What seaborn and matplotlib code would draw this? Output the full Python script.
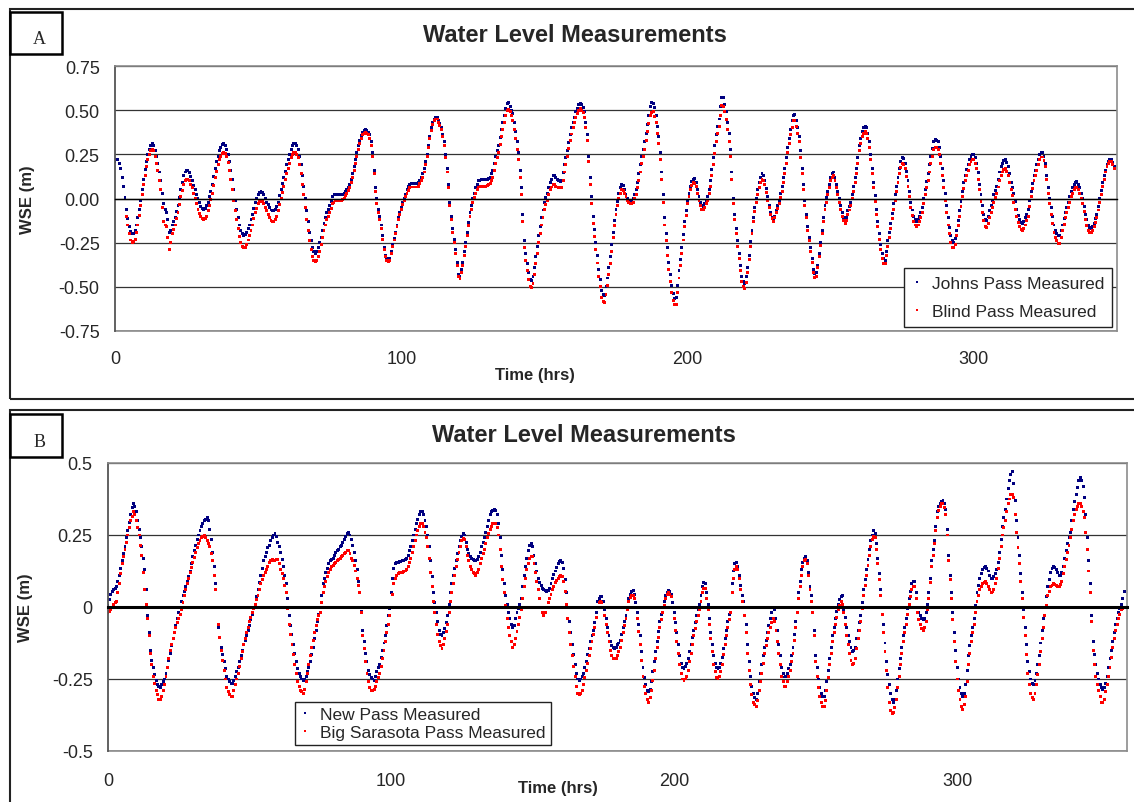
"""
Water level measurements at four passes (Excel-style dotted time series).
Panel A: Johns Pass / Blind Pass, Panel B: New Pass / Big Sarasota Pass.
"""

import numpy as np
import pandas as pd
import matplotlib
matplotlib.use('Agg')
import matplotlib.pyplot as plt
import seaborn as sns
from matplotlib.patches import Rectangle

# Data: readings every half hour, WSE in metres
TITLE = 'Water Level Measurements'
X_TICKS = [0, 100, 200, 300]
STEP_HRS = 0.5

JOHNS_START = 0
johns_pass = [
    0.21, 0.22, 0.22, 0.20, 0.17, 0.12, 0.07, 0.005, -0.06, -0.115, -0.16, -0.185, -0.20, -0.20, -0.18, -0.15, -0.11, -0.06, -0.01, 0.05,
    0.11, 0.165, 0.21, 0.25, 0.28, 0.30, 0.31, 0.30, 0.27, 0.24, 0.20, 0.15, 0.10, 0.03, -0.03, -0.06, -0.08, -0.12, -0.19, -0.18,
    -0.15, -0.13, -0.11, -0.075, -0.04, 0.005, 0.05, 0.09, 0.13, 0.15, 0.16, 0.16, 0.145, 0.125, 0.10, 0.075, 0.05, 0.025, 0.00, -0.025,
    -0.045, -0.055, -0.06, -0.055, -0.04, -0.02, 0.01, 0.04, 0.08, 0.125, 0.17, 0.21, 0.24, 0.27, 0.29, 0.305, 0.31, 0.30, 0.28, 0.25,
    0.21, 0.16, 0.11, 0.05, -0.01, -0.06, -0.11, -0.15, -0.18, -0.20, -0.21, -0.205, -0.19, -0.17, -0.15, -0.12, -0.09, -0.055, -0.02, 0.00,
    0.02, 0.035, 0.04, 0.035, 0.02, 0.00, -0.02, -0.035, -0.05, -0.065, -0.07, -0.07, -0.06, -0.045, -0.02, 0.015, 0.05, 0.085, 0.12, 0.155,
    0.19, 0.22, 0.25, 0.28, 0.30, 0.31, 0.31, 0.30, 0.28, 0.24, 0.19, 0.13, 0.07, 0.00, -0.07, -0.13, -0.19, -0.24, -0.28, -0.30,
    -0.31, -0.30, -0.28, -0.25, -0.22, -0.18, -0.14, -0.11, -0.08, -0.06, -0.04, -0.015, 0.01, 0.02, 0.025, 0.025, 0.025, 0.02, 0.02, 0.025,
    0.03, 0.04, 0.05, 0.065, 0.08, 0.11, 0.14, 0.18, 0.22, 0.26, 0.30, 0.33, 0.355, 0.375, 0.385, 0.39, 0.385, 0.375, 0.36, 0.32,
    0.26, 0.16, 0.06, 0.00, -0.06, -0.10, -0.15, -0.21, -0.28, -0.32, -0.34, -0.345, -0.34, -0.30, -0.26, -0.225, -0.19, -0.15, -0.11, -0.08,
    -0.05, -0.025, 0.00, 0.025, 0.05, 0.07, 0.08, 0.085, 0.085, 0.085, 0.085, 0.085, 0.09, 0.10, 0.12, 0.14, 0.17, 0.21, 0.25, 0.30,
    0.35, 0.40, 0.43, 0.45, 0.46, 0.46, 0.44, 0.425, 0.40, 0.365, 0.32, 0.25, 0.17, 0.08, -0.02, -0.10, -0.17, -0.23, -0.29, -0.36,
    -0.43, -0.44, -0.40, -0.36, -0.30, -0.25, -0.19, -0.135, -0.08, -0.04, 0.00, 0.03, 0.06, 0.08, 0.10, 0.10, 0.105, 0.105, 0.105, 0.11,
    0.11, 0.115, 0.12, 0.14, 0.16, 0.20, 0.24, 0.27, 0.30, 0.345, 0.39, 0.43, 0.47, 0.51, 0.54, 0.545, 0.52, 0.50, 0.48, 0.43,
    0.38, 0.32, 0.26, 0.16, 0.06, -0.09, -0.24, -0.31, -0.37, -0.42, -0.46, -0.465, -0.44, -0.39, -0.33, -0.27, -0.21, -0.16, -0.11, -0.065,
    -0.02, 0.005, 0.03, 0.06, 0.09, 0.11, 0.13, 0.13, 0.12, 0.11, 0.10, 0.095, 0.10, 0.145, 0.19, 0.23, 0.27, 0.315, 0.36, 0.40,
    0.43, 0.46, 0.49, 0.51, 0.53, 0.54, 0.53, 0.515, 0.49, 0.43, 0.36, 0.24, 0.12, 0.01, -0.10, -0.175, -0.25, -0.325, -0.40, -0.46,
    -0.52, -0.545, -0.55, -0.50, -0.45, -0.39, -0.33, -0.26, -0.19, -0.125, -0.06, -0.015, 0.03, 0.06, 0.08, 0.075, 0.05, 0.025, 0.00, -0.015,
    -0.02, -0.015, 0.00, 0.02, 0.05, 0.09, 0.14, 0.19, 0.24, 0.28, 0.32, 0.37, 0.42, 0.47, 0.52, 0.545, 0.54, 0.515, 0.47, 0.41,
    0.35, 0.26, 0.15, 0.02, -0.11, -0.20, -0.28, -0.36, -0.43, -0.49, -0.54, -0.565, -0.56, -0.49, -0.41, -0.345, -0.28, -0.205, -0.13, -0.07,
    -0.01, 0.03, 0.07, 0.095, 0.11, 0.115, 0.09, 0.05, 0.01, -0.02, -0.04, -0.045, -0.03, -0.015, 0.01, 0.05, 0.10, 0.165, 0.23, 0.30,
    0.36, 0.41, 0.45, 0.52, 0.57, 0.57, 0.53, 0.49, 0.43, 0.37, 0.28, 0.15, 0.00, -0.09, -0.17, -0.24, -0.31, -0.38, -0.44, -0.47,
    -0.48, -0.44, -0.39, -0.32, -0.245, -0.18, -0.11, -0.05, 0.00, 0.05, 0.09, 0.12, 0.14, 0.13, 0.10, 0.055, 0.01, -0.04, -0.08, -0.11,
    -0.12, -0.10, -0.07, -0.04, -0.01, 0.03, 0.07, 0.12, 0.17, 0.23, 0.29, 0.34, 0.39, 0.44, 0.47, 0.475, 0.44, 0.40, 0.35, 0.27,
    0.17, 0.08, -0.01, -0.09, -0.16, -0.22, -0.28, -0.34, -0.40, -0.425, -0.42, -0.38, -0.31, -0.25, -0.18, -0.11, -0.04, 0.005, 0.04, 0.08,
    0.12, 0.14, 0.15, 0.12, 0.08, 0.04, 0.00, -0.04, -0.08, -0.105, -0.12, -0.11, -0.07, -0.045, -0.02, 0.02, 0.07, 0.12, 0.17, 0.23,
    0.30, 0.34, 0.38, 0.40, 0.41, 0.40, 0.37, 0.32, 0.25, 0.17, 0.09, 0.015, -0.06, -0.13, -0.20, -0.26, -0.31, -0.34, -0.35, -0.30,
    -0.24, -0.19, -0.14, -0.085, -0.03, 0.02, 0.07, 0.12, 0.17, 0.21, 0.23, 0.225, 0.20, 0.155, 0.10, 0.04, -0.02, -0.065, -0.10, -0.12,
    -0.13, -0.12, -0.10, -0.08, -0.05, 0.00, 0.05, 0.095, 0.14, 0.19, 0.24, 0.285, 0.32, 0.335, 0.33, 0.32, 0.29, 0.24, 0.17, 0.10,
    0.03, -0.04, -0.11, -0.165, -0.21, -0.235, -0.25, -0.225, -0.18, -0.125, -0.07, -0.015, 0.04, 0.09, 0.13, 0.165, 0.19, 0.22, 0.24, 0.25,
    0.25, 0.23, 0.20, 0.145, 0.08, 0.02, -0.04, -0.09, -0.12, -0.125, -0.10, -0.07, -0.04, -0.01, 0.02, 0.045, 0.07, 0.11, 0.15, 0.18,
    0.20, 0.215, 0.22, 0.205, 0.18, 0.14, 0.09, 0.06, 0.03, -0.015, -0.06, -0.095, -0.12, -0.135, -0.14, -0.13, -0.11, -0.09, -0.06, -0.01,
    0.04, 0.085, 0.13, 0.16, 0.19, 0.22, 0.25, 0.26, 0.26, 0.24, 0.20, 0.13, 0.06, 0.00, -0.05, -0.10, -0.15, -0.18, -0.20, -0.21,
    -0.21, -0.18, -0.15, -0.115, -0.08, -0.05, -0.02, 0.01, 0.04, 0.06, 0.08, 0.09, 0.095, 0.08, 0.06, 0.03, 0.00, -0.045, -0.09, -0.12,
    -0.15, -0.165, -0.17, -0.16, -0.14, -0.115, -0.09, -0.045, 0.00, 0.045, 0.09, 0.13, 0.16, 0.19, 0.21, 0.22, 0.22, 0.205, 0.18,
]

BLIND_START = 4
blind_pass = [
    -0.10, -0.15, -0.20, -0.235, -0.25, -0.245, -0.23, -0.19, -0.15, -0.095, -0.04, 0.02,
    0.08, 0.13, 0.18, 0.22, 0.25, 0.27, 0.28, 0.27, 0.24, 0.20, 0.16, 0.10, 0.05, -0.05, -0.13, -0.15, -0.16, -0.22, -0.29, -0.25,
    -0.20, -0.175, -0.15, -0.115, -0.08, -0.035, 0.01, 0.045, 0.08, 0.10, 0.11, 0.11, 0.10, 0.08, 0.06, 0.03, 0.00, -0.03, -0.06, -0.085,
    -0.10, -0.115, -0.12, -0.115, -0.10, -0.07, -0.04, -0.005, 0.03, 0.075, 0.12, 0.155, 0.19, 0.22, 0.24, 0.255, 0.26, 0.255, 0.24, 0.205,
    0.16, 0.105, 0.05, -0.01, -0.07, -0.12, -0.17, -0.215, -0.25, -0.27, -0.28, -0.275, -0.26, -0.235, -0.21, -0.18, -0.15, -0.115, -0.08, -0.055,
    -0.03, -0.015, -0.01, -0.015, -0.03, -0.05, -0.07, -0.09, -0.11, -0.125, -0.13, -0.13, -0.12, -0.10, -0.07, -0.035, 0.00, 0.035, 0.07, 0.105,
    0.14, 0.17, 0.20, 0.23, 0.25, 0.26, 0.26, 0.25, 0.23, 0.19, 0.14, 0.08, 0.02, -0.05, -0.12, -0.18, -0.24, -0.29, -0.33, -0.35,
    -0.355, -0.35, -0.33, -0.30, -0.26, -0.22, -0.18, -0.15, -0.12, -0.10, -0.08, -0.055, -0.03, -0.02, -0.01, -0.01, -0.01, -0.01, -0.01, -0.005,
    0.00, 0.015, 0.03, 0.045, 0.06, 0.09, 0.12, 0.16, 0.20, 0.24, 0.28, 0.31, 0.34, 0.36, 0.37, 0.375, 0.37, 0.36, 0.34, 0.30,
    0.24, 0.14, 0.04, -0.03, -0.08, -0.12, -0.17, -0.23, -0.29, -0.33, -0.35, -0.355, -0.35, -0.31, -0.27, -0.235, -0.20, -0.16, -0.12, -0.09,
    -0.06, -0.035, -0.01, 0.01, 0.03, 0.045, 0.06, 0.065, 0.065, 0.065, 0.065, 0.065, 0.07, 0.085, 0.10, 0.12, 0.15, 0.195, 0.24, 0.29,
    0.34, 0.385, 0.42, 0.44, 0.45, 0.45, 0.43, 0.415, 0.39, 0.35, 0.30, 0.23, 0.15, 0.06, -0.04, -0.12, -0.19, -0.25, -0.31, -0.38,
    -0.44, -0.455, -0.42, -0.38, -0.32, -0.27, -0.21, -0.155, -0.10, -0.06, -0.02, 0.005, 0.03, 0.05, 0.065, 0.07, 0.07, 0.07, 0.07, 0.07,
    0.075, 0.08, 0.085, 0.10, 0.12, 0.16, 0.20, 0.23, 0.26, 0.305, 0.35, 0.39, 0.43, 0.47, 0.50, 0.505, 0.49, 0.47, 0.44, 0.39,
    0.34, 0.28, 0.22, 0.12, 0.02, -0.13, -0.28, -0.35, -0.41, -0.46, -0.50, -0.505, -0.48, -0.43, -0.37, -0.31, -0.25, -0.20, -0.15, -0.105,
    -0.06, -0.035, -0.01, 0.02, 0.05, 0.065, 0.08, 0.08, 0.07, 0.065, 0.06, 0.06, 0.06, 0.10, 0.15, 0.195, 0.24, 0.285, 0.33, 0.365,
    0.40, 0.43, 0.46, 0.48, 0.50, 0.51, 0.50, 0.485, 0.46, 0.40, 0.33, 0.21, 0.08, -0.03, -0.14, -0.215, -0.29, -0.365, -0.44, -0.50,
    -0.56, -0.585, -0.59, -0.545, -0.49, -0.43, -0.37, -0.30, -0.22, -0.155, -0.09, -0.04, 0.00, 0.03, 0.05, 0.045, 0.03, 0.01, -0.01, -0.02,
    -0.03, -0.03, -0.02, 0.00, 0.02, 0.06, 0.10, 0.15, 0.20, 0.24, 0.28, 0.33, 0.38, 0.425, 0.47, 0.485, 0.49, 0.465, 0.43, 0.37,
    0.31, 0.22, 0.11, -0.02, -0.15, -0.24, -0.32, -0.40, -0.47, -0.53, -0.58, -0.60, -0.60, -0.53, -0.45, -0.38, -0.31, -0.235, -0.16, -0.095,
    -0.03, 0.01, 0.05, 0.075, 0.09, 0.085, 0.07, 0.03, -0.01, -0.04, -0.06, -0.06, -0.05, -0.03, -0.01, 0.03, 0.07, 0.13, 0.19, 0.255,
    0.32, 0.37, 0.41, 0.47, 0.525, 0.52, 0.49, 0.445, 0.39, 0.32, 0.24, 0.11, -0.03, -0.12, -0.20, -0.27, -0.34, -0.41, -0.47, -0.50,
    -0.51, -0.475, -0.42, -0.345, -0.27, -0.20, -0.13, -0.075, -0.02, 0.02, 0.06, 0.09, 0.11, 0.10, 0.08, 0.035, -0.01, -0.05, -0.09, -0.115,
    -0.13, -0.11, -0.08, -0.055, -0.03, 0.005, 0.04, 0.09, 0.14, 0.20, 0.26, 0.31, 0.36, 0.40, 0.44, 0.44, 0.41, 0.37, 0.32, 0.23,
    0.14, 0.05, -0.04, -0.11, -0.18, -0.24, -0.30, -0.36, -0.42, -0.445, -0.44, -0.39, -0.33, -0.265, -0.20, -0.13, -0.06, -0.02, 0.02, 0.06,
    0.10, 0.12, 0.13, 0.10, 0.06, 0.02, -0.02, -0.06, -0.10, -0.125, -0.14, -0.125, -0.09, -0.065, -0.04, 0.00, 0.04, 0.09, 0.14, 0.20,
    0.27, 0.31, 0.35, 0.37, 0.38, 0.37, 0.34, 0.29, 0.22, 0.14, 0.06, -0.015, -0.09, -0.16, -0.23, -0.29, -0.34, -0.37, -0.37, -0.32,
    -0.27, -0.22, -0.17, -0.115, -0.06, -0.01, 0.04, 0.09, 0.14, 0.175, 0.20, 0.195, 0.17, 0.125, 0.07, 0.01, -0.05, -0.095, -0.13, -0.15,
    -0.16, -0.15, -0.13, -0.105, -0.08, -0.03, 0.02, 0.06, 0.10, 0.15, 0.20, 0.24, 0.28, 0.29, 0.29, 0.28, 0.25, 0.20, 0.13, 0.06,
    -0.01, -0.08, -0.15, -0.20, -0.25, -0.275, -0.28, -0.26, -0.21, -0.155, -0.10, -0.045, 0.01, 0.055, 0.10, 0.13, 0.16, 0.19, 0.21, 0.22,
    0.22, 0.20, 0.17, 0.11, 0.05, -0.015, -0.08, -0.125, -0.16, -0.165, -0.14, -0.11, -0.08, -0.05, -0.02, 0.005, 0.03, 0.065, 0.10, 0.13,
    0.15, 0.165, 0.17, 0.155, 0.13, 0.09, 0.05, 0.015, -0.02, -0.06, -0.10, -0.135, -0.16, -0.175, -0.18, -0.17, -0.15, -0.125, -0.10, -0.045,
    0.01, 0.055, 0.10, 0.13, 0.16, 0.19, 0.22, 0.235, 0.235, 0.215, 0.18, 0.11, 0.03, -0.03, -0.09, -0.14, -0.19, -0.22, -0.24, -0.255,
    -0.255, -0.22, -0.18, -0.145, -0.11, -0.08, -0.05, -0.02, 0.01, 0.03, 0.05, 0.06, 0.06, 0.05, 0.03, 0.00, -0.03, -0.075, -0.12, -0.155,
    -0.18, -0.19, -0.19, -0.18, -0.16, -0.135, -0.11, -0.065, -0.02, 0.025, 0.07, 0.11, 0.15, 0.18, 0.20, 0.21, 0.21, 0.195, 0.17,
]

NEW_START = 0
new_pass = [
    0.005, 0.025, 0.045, 0.055, 0.06, 0.065, 0.07, 0.09, 0.11, 0.135, 0.16, 0.185, 0.21, 0.24, 0.265, 0.295, 0.32, 0.345, 0.36, 0.35,
    0.33, 0.30, 0.27, 0.24, 0.21, 0.17, 0.13, 0.06, -0.03, -0.09, -0.15, -0.185, -0.21, -0.235, -0.255, -0.27, -0.275, -0.28, -0.27, -0.26,
    -0.25, -0.23, -0.21, -0.185, -0.16, -0.135, -0.11, -0.09, -0.065, -0.04, -0.02, 0.00, 0.02, 0.04, 0.055, 0.07, 0.09, 0.105, 0.125, 0.15,
    0.175, 0.195, 0.215, 0.235, 0.25, 0.265, 0.28, 0.29, 0.30, 0.305, 0.31, 0.30, 0.27, 0.235, 0.19, 0.14, 0.08, 0.00, -0.07, -0.105,
    -0.14, -0.165, -0.19, -0.215, -0.24, -0.25, -0.26, -0.265, -0.265, -0.255, -0.24, -0.225, -0.21, -0.19, -0.17, -0.15, -0.13, -0.115, -0.10, -0.08,
    -0.065, -0.045, -0.025, -0.005, 0.01, 0.035, 0.06, 0.085, 0.11, 0.135, 0.16, 0.175, 0.19, 0.205, 0.215, 0.23, 0.24, 0.25, 0.255, 0.245,
    0.225, 0.21, 0.19, 0.165, 0.14, 0.11, 0.08, 0.03, -0.03, -0.065, -0.095, -0.13, -0.16, -0.19, -0.215, -0.23, -0.24, -0.25, -0.255, -0.25,
    -0.24, -0.225, -0.21, -0.19, -0.165, -0.14, -0.11, -0.08, -0.05, -0.025, 0.00, 0.04, 0.08, 0.10, 0.12, 0.135, 0.15, 0.16, 0.165, 0.17,
    0.18, 0.19, 0.195, 0.20, 0.21, 0.215, 0.225, 0.235, 0.245, 0.255, 0.26, 0.25, 0.235, 0.215, 0.19, 0.16, 0.13, 0.09, 0.05, -0.015,
    -0.08, -0.12, -0.16, -0.19, -0.22, -0.235, -0.245, -0.25, -0.255, -0.24, -0.225, -0.21, -0.20, -0.175, -0.15, -0.125, -0.10, -0.065, -0.03, -0.005,
    0.05, 0.10, 0.135, 0.15, 0.155, 0.156, 0.157, 0.158, 0.16, 0.162, 0.165, 0.17, 0.18, 0.195, 0.21, 0.23, 0.25, 0.27, 0.29, 0.305,
    0.32, 0.33, 0.333, 0.32, 0.30, 0.28, 0.25, 0.21, 0.16, 0.105, 0.05, 0.015, -0.02, -0.05, -0.08, -0.095, -0.098, -0.09, -0.075, -0.055,
    -0.03, 0.01, 0.05, 0.08, 0.11, 0.135, 0.16, 0.185, 0.21, 0.23, 0.245, 0.255, 0.25, 0.225, 0.20, 0.185, 0.175, 0.17, 0.165, 0.16,
    0.16, 0.165, 0.175, 0.19, 0.21, 0.225, 0.24, 0.26, 0.28, 0.30, 0.32, 0.33, 0.335, 0.337, 0.335, 0.32, 0.29, 0.24, 0.18, 0.13,
    0.08, 0.04, 0.01, -0.02, -0.04, -0.06, -0.07, -0.065, -0.04, -0.02, -0.005, 0.01, 0.03, 0.07, 0.11, 0.14, 0.17, 0.195, 0.215, 0.22,
    0.21, 0.18, 0.15, 0.125, 0.10, 0.085, 0.075, 0.065, 0.06, 0.057, 0.055, 0.058, 0.065, 0.08, 0.10, 0.113, 0.125, 0.138, 0.15, 0.158,
    0.163, 0.155, 0.135, 0.095, 0.05, 0.00, -0.05, -0.09, -0.13, -0.165, -0.20, -0.23, -0.25, -0.255, -0.25, -0.24, -0.23, -0.21, -0.19, -0.165,
    -0.145, -0.12, -0.10, -0.08, -0.055, -0.02, 0.02, 0.03, 0.035, 0.035, 0.02, -0.01, -0.04, -0.07, -0.10, -0.12, -0.135, -0.142, -0.144, -0.14,
    -0.13, -0.125, -0.115, -0.095, -0.07, -0.05, -0.03, 0.00, 0.03, 0.045, 0.055, 0.058, 0.045, 0.015, -0.02, -0.06, -0.10, -0.155, -0.21, -0.245,
    -0.27, -0.29, -0.295, -0.285, -0.26, -0.225, -0.19, -0.155, -0.12, -0.085, -0.05, -0.025, 0.00, 0.02, 0.04, 0.05, 0.058, 0.055, 0.045, 0.015,
    -0.02, -0.055, -0.09, -0.13, -0.17, -0.195, -0.21, -0.212, -0.205, -0.195, -0.18, -0.155, -0.13, -0.105, -0.08, -0.055, -0.03, -0.01, 0.01, 0.04,
    0.07, 0.085, 0.08, 0.05, 0.01, -0.04, -0.09, -0.13, -0.17, -0.195, -0.21, -0.215, -0.21, -0.195, -0.175, -0.145, -0.11, -0.08, -0.05, -0.025,
    0.00, 0.08, 0.125, 0.15, 0.155, 0.14, 0.11, 0.075, 0.04, 0.02, 0.00, -0.06, -0.13, -0.19, -0.24, -0.275, -0.30, -0.315, -0.32, -0.30,
    -0.26, -0.23, -0.20, -0.17, -0.14, -0.115, -0.09, -0.065, -0.04, -0.02, 0.00, -0.01, -0.04, -0.08, -0.13, -0.17, -0.21, -0.23, -0.243, -0.24,
    -0.23, -0.215, -0.20, -0.17, -0.14, -0.095, -0.05, 0.00, 0.05, 0.09, 0.13, 0.155, 0.17, 0.175, 0.16, 0.12, 0.07, 0.04, 0.00, -0.08,
    -0.17, -0.21, -0.25, -0.28, -0.30, -0.31, -0.31, -0.29, -0.26, -0.22, -0.18, -0.14, -0.10, -0.07, -0.04, -0.015, 0.01, 0.025, 0.035, 0.04,
    -0.01, -0.035, -0.07, -0.10, -0.12, -0.14, -0.155, -0.15, -0.14, -0.11, -0.08, -0.055, -0.03, 0.015, 0.06, 0.095, 0.13, 0.165, 0.20, 0.23,
    0.25, 0.265, 0.255, 0.22, 0.17, 0.115, 0.06, 0.00, -0.06, -0.125, -0.19, -0.235, -0.27, -0.30, -0.32, -0.33, -0.32, -0.29, -0.25, -0.215,
    -0.18, -0.14, -0.10, -0.07, -0.04, -0.005, 0.03, 0.055, 0.08, 0.088, 0.09, 0.05, 0.00, -0.02, -0.03, -0.04, -0.045, -0.04, -0.02, 0.01,
    0.05, 0.10, 0.16, 0.20, 0.23, 0.28, 0.33, 0.35, 0.36, 0.368, 0.37, 0.36, 0.34, 0.27, 0.18, 0.11, 0.05, -0.02, -0.09, -0.15,
    -0.21, -0.25, -0.28, -0.30, -0.31, -0.30, -0.27, -0.22, -0.17, -0.135, -0.10, -0.07, -0.04, 0.005, 0.05, 0.075, 0.10, 0.115, 0.13, 0.137,
    0.14, 0.135, 0.125, 0.11, 0.10, 0.10, 0.105, 0.115, 0.13, 0.155, 0.19, 0.235, 0.28, 0.31, 0.34, 0.375, 0.41, 0.44, 0.46, 0.47,
    0.43, 0.37, 0.30, 0.24, 0.18, 0.115, 0.05, -0.01, -0.07, -0.13, -0.19, -0.225, -0.25, -0.265, -0.27, -0.255, -0.23, -0.20, -0.17, -0.125,
    -0.08, -0.04, 0.00, 0.035, 0.07, 0.095, 0.12, 0.135, 0.14, 0.138, 0.13, 0.12, 0.11, 0.11, 0.12, 0.14, 0.17, 0.195, 0.22, 0.24,
    0.26, 0.30, 0.34, 0.365, 0.39, 0.415, 0.44, 0.45, 0.44, 0.42, 0.38, 0.32, 0.24, 0.16, 0.08, -0.03, -0.12, -0.165, -0.20, -0.23,
    -0.25, -0.27, -0.28, -0.285, -0.28, -0.265, -0.24, -0.21, -0.18, -0.15, -0.12, -0.09, -0.06, -0.04, -0.02, -0.005, 0.01, 0.03, 0.055,
]

SARASOTA_START = 0
big_sarasota_pass = [
    -0.02, -0.015, -0.01, 0.00, 0.01, 0.015, 0.02, 0.05, 0.08, 0.115, 0.15, 0.175, 0.20, 0.225, 0.25, 0.275, 0.30, 0.315, 0.33, 0.32,
    0.30, 0.275, 0.25, 0.215, 0.18, 0.12, 0.06, 0.01, -0.04, -0.10, -0.16, -0.20, -0.24, -0.265, -0.29, -0.305, -0.32, -0.32, -0.31, -0.29,
    -0.27, -0.24, -0.21, -0.18, -0.15, -0.13, -0.11, -0.09, -0.07, -0.055, -0.04, -0.025, -0.01, 0.015, 0.04, 0.06, 0.08, 0.10, 0.12, 0.138,
    0.155, 0.172, 0.19, 0.205, 0.22, 0.23, 0.24, 0.245, 0.25, 0.24, 0.23, 0.22, 0.21, 0.185, 0.16, 0.11, 0.06, 0.00, -0.06, -0.105,
    -0.15, -0.185, -0.22, -0.25, -0.28, -0.295, -0.305, -0.31, -0.31, -0.29, -0.27, -0.25, -0.23, -0.205, -0.18, -0.155, -0.13, -0.11, -0.09, -0.07,
    -0.05, -0.035, -0.02, -0.005, 0.01, 0.025, 0.04, 0.06, 0.08, 0.095, 0.11, 0.12, 0.13, 0.142, 0.155, 0.16, 0.165, 0.16, 0.16, 0.165,
    0.165, 0.15, 0.13, 0.115, 0.10, 0.075, 0.05, -0.005, -0.06, -0.095, -0.13, -0.165, -0.20, -0.23, -0.26, -0.275, -0.29, -0.295, -0.30, -0.285,
    -0.26, -0.23, -0.20, -0.17, -0.14, -0.115, -0.09, -0.065, -0.045, -0.03, -0.02, 0.015, 0.05, 0.07, 0.09, 0.105, 0.12, 0.13, 0.14, 0.145,
    0.15, 0.155, 0.16, 0.165, 0.17, 0.175, 0.18, 0.185, 0.19, 0.195, 0.195, 0.185, 0.17, 0.16, 0.145, 0.125, 0.10, 0.075, 0.05, -0.02,
    -0.10, -0.145, -0.19, -0.23, -0.26, -0.28, -0.29, -0.29, -0.285, -0.275, -0.26, -0.245, -0.23, -0.205, -0.18, -0.15, -0.12, -0.09, -0.06, -0.03,
    0.00, 0.045, 0.08, 0.10, 0.11, 0.115, 0.12, 0.12, 0.12, 0.122, 0.125, 0.13, 0.14, 0.155, 0.17, 0.19, 0.21, 0.23, 0.25, 0.265,
    0.28, 0.29, 0.29, 0.28, 0.26, 0.24, 0.21, 0.17, 0.12, 0.07, 0.02, -0.02, -0.06, -0.095, -0.12, -0.135, -0.144, -0.13, -0.11, -0.085,
    -0.06, -0.02, 0.02, 0.05, 0.08, 0.11, 0.14, 0.165, 0.19, 0.21, 0.23, 0.237, 0.235, 0.21, 0.18, 0.16, 0.14, 0.13, 0.12, 0.115,
    0.11, 0.12, 0.13, 0.15, 0.17, 0.185, 0.20, 0.22, 0.24, 0.255, 0.27, 0.28, 0.29, 0.29, 0.29, 0.275, 0.25, 0.20, 0.14, 0.095,
    0.05, 0.005, -0.04, -0.07, -0.10, -0.12, -0.14, -0.13, -0.11, -0.085, -0.06, -0.035, -0.01, 0.03, 0.07, 0.10, 0.13, 0.15, 0.17, 0.175,
    0.175, 0.15, 0.12, 0.09, 0.06, 0.03, 0.00, -0.02, -0.03, -0.02, 0.00, 0.015, 0.03, 0.045, 0.06, 0.072, 0.085, 0.093, 0.10, 0.105,
    0.11, 0.105, 0.09, 0.055, 0.01, -0.04, -0.09, -0.13, -0.17, -0.205, -0.24, -0.275, -0.30, -0.305, -0.30, -0.29, -0.27, -0.245, -0.22, -0.195,
    -0.17, -0.145, -0.12, -0.095, -0.07, -0.035, 0.00, 0.015, 0.02, 0.015, 0.00, -0.03, -0.06, -0.09, -0.12, -0.15, -0.17, -0.178, -0.18, -0.178,
    -0.17, -0.155, -0.14, -0.115, -0.09, -0.065, -0.04, -0.01, 0.02, 0.032, 0.04, 0.04, 0.03, 0.00, -0.04, -0.085, -0.13, -0.185, -0.24, -0.275,
    -0.30, -0.32, -0.33, -0.315, -0.29, -0.255, -0.22, -0.18, -0.14, -0.105, -0.07, -0.045, -0.02, 0.005, 0.03, 0.042, 0.05, 0.045, 0.035, 0.00,
    -0.04, -0.08, -0.12, -0.16, -0.20, -0.23, -0.25, -0.255, -0.25, -0.24, -0.22, -0.19, -0.16, -0.13, -0.10, -0.075, -0.05, -0.03, -0.01, 0.02,
    0.05, 0.065, 0.065, 0.03, -0.01, -0.06, -0.11, -0.155, -0.20, -0.225, -0.245, -0.248, -0.24, -0.225, -0.20, -0.165, -0.13, -0.10, -0.07, -0.045,
    -0.02, 0.05, 0.10, 0.13, 0.14, 0.13, 0.10, 0.06, 0.02, 0.00, -0.03, -0.09, -0.16, -0.22, -0.27, -0.305, -0.33, -0.34, -0.345, -0.325,
    -0.29, -0.26, -0.23, -0.195, -0.16, -0.135, -0.11, -0.09, -0.07, -0.055, -0.04, -0.05, -0.08, -0.12, -0.16, -0.20, -0.24, -0.26, -0.275, -0.275,
    -0.26, -0.24, -0.22, -0.19, -0.16, -0.115, -0.07, -0.02, 0.03, 0.07, 0.11, 0.14, 0.16, 0.165, 0.15, 0.11, 0.06, 0.02, -0.02, -0.10,
    -0.19, -0.24, -0.28, -0.31, -0.33, -0.345, -0.345, -0.325, -0.29, -0.245, -0.20, -0.16, -0.12, -0.09, -0.06, -0.035, -0.01, 0.005, 0.02, 0.01,
    -0.02, -0.06, -0.10, -0.13, -0.16, -0.185, -0.20, -0.195, -0.18, -0.145, -0.11, -0.08, -0.05, -0.005, 0.04, 0.075, 0.11, 0.145, 0.18, 0.21,
    0.235, 0.245, 0.24, 0.20, 0.15, 0.095, 0.04, -0.025, -0.09, -0.155, -0.22, -0.28, -0.33, -0.36, -0.37, -0.365, -0.35, -0.32, -0.28, -0.24,
    -0.20, -0.16, -0.12, -0.09, -0.06, -0.025, 0.01, 0.035, 0.06, 0.07, 0.07, 0.03, -0.02, -0.045, -0.06, -0.075, -0.08, -0.07, -0.05, -0.01,
    0.03, 0.085, 0.14, 0.18, 0.22, 0.265, 0.31, 0.335, 0.35, 0.36, 0.36, 0.345, 0.32, 0.25, 0.16, 0.095, 0.03, -0.045, -0.12, -0.19,
    -0.25, -0.29, -0.32, -0.345, -0.355, -0.34, -0.31, -0.26, -0.20, -0.16, -0.12, -0.09, -0.06, -0.02, 0.02, 0.04, 0.06, 0.07, 0.08, 0.085,
    0.09, 0.08, 0.07, 0.06, 0.05, 0.052, 0.06, 0.08, 0.10, 0.135, 0.17, 0.21, 0.25, 0.275, 0.30, 0.33, 0.36, 0.375, 0.39, 0.39,
    0.38, 0.32, 0.26, 0.205, 0.15, 0.09, 0.03, -0.035, -0.10, -0.165, -0.23, -0.27, -0.30, -0.315, -0.32, -0.30, -0.27, -0.235, -0.20, -0.155,
    -0.11, -0.07, -0.03, 0.005, 0.04, 0.055, 0.07, 0.075, 0.08, 0.078, 0.075, 0.072, 0.07, 0.078, 0.09, 0.115, 0.14, 0.165, 0.19, 0.215,
    0.24, 0.27, 0.30, 0.32, 0.34, 0.35, 0.36, 0.36, 0.35, 0.33, 0.31, 0.26, 0.20, 0.125, 0.05, -0.05, -0.15, -0.20, -0.24, -0.27,
    -0.29, -0.31, -0.33, -0.33, -0.32, -0.295, -0.27, -0.24, -0.21, -0.175, -0.14, -0.11, -0.08, -0.06, -0.04, -0.025, -0.01, -0.005, 0.00,
]

A_YTICKS = [-0.75, -0.5, -0.25, 0.0, 0.25, 0.5, 0.75]
A_YLABELS = ['-0.75', '-0.50', '-0.25', '0.00', '0.25', '0.50', '0.75']
B_YTICKS = [-0.5, -0.25, 0.0, 0.25, 0.5]
B_YLABELS = ['-0.5', '-0.25', '0', '0.25', '0.5']

BLUE = '#000080'
RED = '#FF0000'

W, H = 1134, 803


def px_rect(x0, y0, x1, y1):
    """Pixel box (top-left origin) -> figure fraction [left, bottom, w, h]."""
    return [x0 / W, 1 - y1 / H, (x1 - x0) / W, (y1 - y0) / H]


def build_frame(series):
    frames = []
    for name, start, values in series:
        frames.append(pd.DataFrame({
            'time': start + STEP_HRS * np.arange(len(values)),
            'wse': values,
            'station': name,
        }))
    return pd.concat(frames, ignore_index=True)


def draw_panel(fig, rect, df, palette, xmax, yticks, ylabels, zero_lw,
               legend_kw, ylabel_x, xlabel_xy, tick_pad):
    ax = fig.add_axes(rect)
    sns.scatterplot(data=df, x='time', y='wse', hue='station', palette=palette,
                    marker='s', s=4.5, linewidth=0, ax=ax)
    ax.set_xlim(0, xmax)
    ax.set_ylim(yticks[0], yticks[-1])
    ax.set_yticks(yticks, ylabels)
    ax.yaxis.grid(True, color='#333333', linewidth=0.9)
    ax.xaxis.grid(False)
    ax.set_axisbelow(True)

    # horizontal axis crosses at zero (Excel style), labels stay at bottom
    ax.spines['bottom'].set_position(('data', 0))
    ax.spines['bottom'].set_color('black')
    ax.spines['bottom'].set_linewidth(zero_lw)
    ax.set_xticks(X_TICKS)
    ax.tick_params(axis='x', direction='out', length=3.5, width=1,
                   color='black', labelbottom=False)
    sec = ax.secondary_xaxis('bottom')
    sec.set_xticks(X_TICKS)
    sec.tick_params(length=0, pad=tick_pad, labelsize=13)
    sec.spines['bottom'].set_color('#8c8c8c')
    sec.spines['bottom'].set_linewidth(1.2)

    for side in ('top', 'right'):
        ax.spines[side].set_visible(True)
        ax.spines[side].set_color('#8c8c8c')
        ax.spines[side].set_linewidth(1.2)
    ax.spines['left'].set_color('#555555')
    ax.spines['left'].set_linewidth(1.3)
    ax.tick_params(axis='y', direction='out', length=4, width=1,
                   color='#555555', labelsize=13, pad=7)

    ax.set_xlabel('')
    ax.set_ylabel('WSE (m)', fontsize=12, fontweight='bold')
    ax.yaxis.set_label_coords(ylabel_x, 0.5)
    ax.text(xlabel_xy[0], xlabel_xy[1], 'Time (hrs)', transform=ax.transAxes,
            ha='center', va='center', fontsize=12, fontweight='bold')

    handles, labels = ax.get_legend_handles_labels()
    leg = ax.legend(handles, labels, frameon=True, fancybox=False,
                    framealpha=1, edgecolor='#222222', fontsize=12.5,
                    handlelength=0.6, handletextpad=0.55, borderaxespad=0,
                    markerscale=1.0, **legend_kw)
    leg.get_frame().set_linewidth(1.0)
    return ax


def main():
    sns.set_style('white')
    plt.rcParams['font.family'] = ['Liberation Sans', 'DejaVu Sans']

    fig = plt.figure(figsize=(W / 100, H / 100), dpi=100)

    # outer chart frames and panel letters
    for (x0, y0, x1, y1) in [(10, 10, 1140, 400), (10, 411, 1140, 810)]:
        l, b, w, h = px_rect(x0, y0, x1, y1)
        fig.add_artist(Rectangle((l, b), w, h, transform=fig.transFigure,
                                 fill=False, edgecolor='#222222', linewidth=1.5))
    for letter, (x0, y0, x1, y1) in [('A', (10, 13, 62, 55)), ('B', (10, 415, 62, 458))]:
        l, b, w, h = px_rect(x0, y0, x1, y1)
        fig.add_artist(Rectangle((l, b), w, h, transform=fig.transFigure,
                                 fill=False, edgecolor='black', linewidth=1.8))
        fig.text(l + w / 2 + 0.003, b + h / 2 - 0.007, letter, ha='center',
                 va='center', fontsize=13, family=['Liberation Serif', 'DejaVu Serif'])

    fig.text(575 / W, 1 - 35 / H, TITLE, ha='center', va='center',
             fontsize=17, fontweight='bold')
    fig.text(584 / W, 1 - 436 / H, TITLE, ha='center', va='center',
             fontsize=17, fontweight='bold')

    # Panel A
    df_a = build_frame([('Johns Pass Measured', JOHNS_START, johns_pass),
                        ('Blind Pass Measured', BLIND_START, blind_pass)])
    draw_panel(fig, px_rect(115, 67, 1117, 332), df_a,
               {'Johns Pass Measured': BLUE, 'Blind Pass Measured': RED},
               350, A_YTICKS, A_YLABELS, 1.0,
               dict(loc='lower right', bbox_to_anchor=(0.995, 0.015),
                    labelspacing=0.75, borderpad=0.45),
               -0.080, (0.419, -0.166), 14)

    # Panel B
    df_b = build_frame([('New Pass Measured', NEW_START, new_pass),
                        ('Big Sarasota Pass Measured', SARASOTA_START, big_sarasota_pass)])
    draw_panel(fig, px_rect(108, 464, 1127, 752), df_b,
               {'New Pass Measured': BLUE, 'Big Sarasota Pass Measured': RED},
               360, B_YTICKS, B_YLABELS, 2.2,
               dict(loc='lower left', bbox_to_anchor=(0.1835, 0.021),
                    labelspacing=0.15, borderpad=0.3),
               -0.074, (0.4416, -0.128), 15)

    fig.savefig('out.png', dpi=100)
    plt.close(fig)


if __name__ == '__main__':
    main()
